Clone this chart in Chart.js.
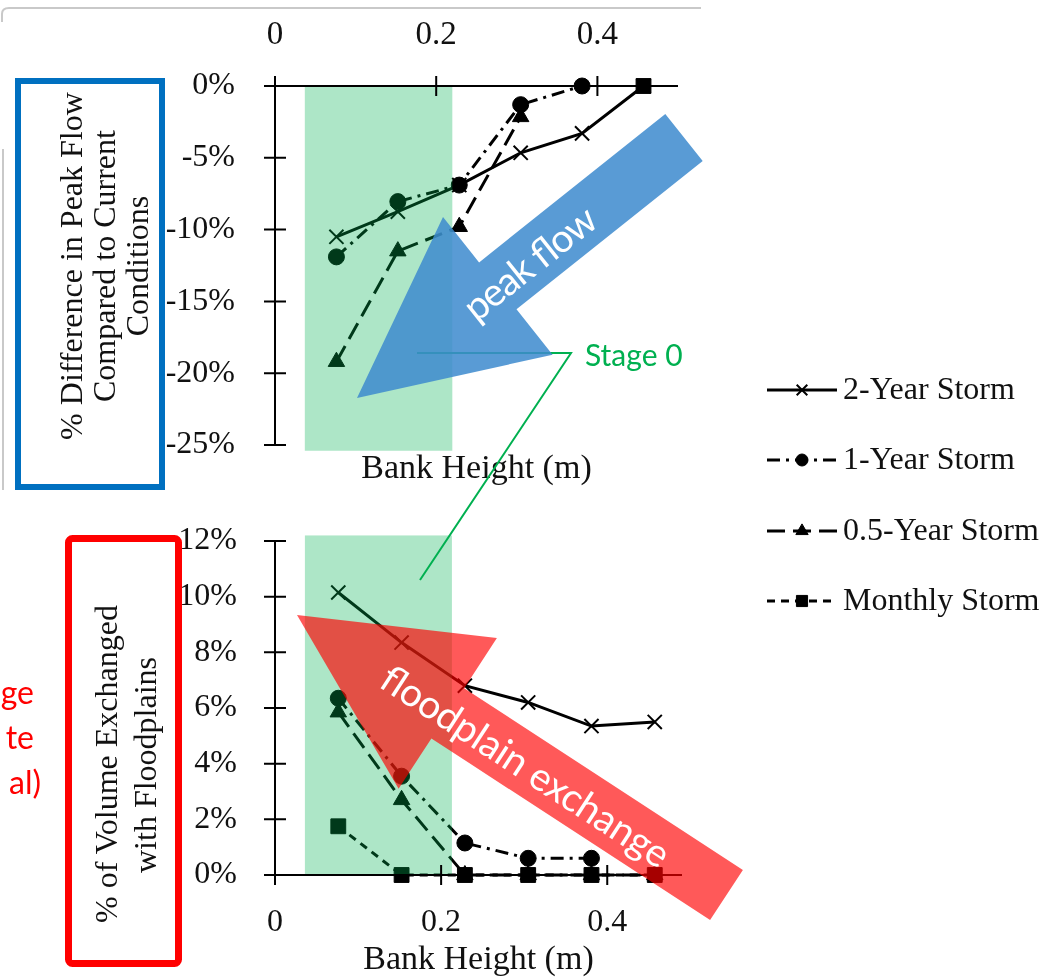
<!DOCTYPE html>
<html>
<head>
<meta charset="utf-8">
<script src="https://cdn.jsdelivr.net/npm/chart.js@4.4.1/dist/chart.umd.min.js"></script>
<style>
body { margin: 0; background: #fff; }
#wrap { position: relative; width: 1053px; height: 977px; overflow: hidden; background: #fff; }
.cv { position: absolute; left: 0; top: 0; width: 1053px; height: 977px; }
#ov { position: absolute; left: 0; top: 0; }
.serif { font-family: "Liberation Serif", "Times New Roman", serif; font-size: 32px; fill: #111; }
.sans { font-family: Lato, "Open Sans", sans-serif; }
</style>
</head>
<body>
<div id="wrap">
  <div class="cv"><canvas id="peak"></canvas></div>
  <div class="cv"><canvas id="vol"></canvas></div>
  <svg id="ov" width="1053" height="977">
    <!-- bits of the slide frame -->
    <path d="M2,22 L2,14 Q2,8 9,8 L701,8" stroke="#c9c9c9" stroke-width="2" fill="none"/>
    <line x1="3" y1="149" x2="3" y2="490" stroke="#c9c9c9" stroke-width="2"/>

    <!-- boxed y titles -->
    <rect x="18" y="81" width="144" height="406" fill="none" stroke="#0070C0" stroke-width="6"/>
    <text class="serif" text-anchor="middle" dominant-baseline="central" transform="translate(71,266) rotate(-90)">% Difference in Peak Flow</text>
    <text class="serif" text-anchor="middle" dominant-baseline="central" transform="translate(104,266) rotate(-90)">Compared to Current</text>
    <text class="serif" text-anchor="middle" dominant-baseline="central" transform="translate(137,266) rotate(-90)">Conditions</text>

    <rect x="68.5" y="538.5" width="110" height="425" rx="4" fill="none" stroke="#FF0000" stroke-width="7"/>
    <text class="serif" text-anchor="middle" dominant-baseline="central" transform="translate(106,764) rotate(-90)">% of Volume Exchanged</text>
    <text class="serif" text-anchor="middle" dominant-baseline="central" transform="translate(145,765) rotate(-90)">with Floodplains</text>

    <!-- cut-off red label at the left edge -->
    <text class="sans" x="34" y="704" text-anchor="end" font-size="32" fill="#FF0000">ge</text>
    <text class="sans" x="34" y="749" text-anchor="end" font-size="32" fill="#FF0000">te</text>
    <text class="sans" x="41" y="794" text-anchor="end" font-size="32" fill="#FF0000">al)</text>

    <!-- Stage 0 callout -->
    <polyline points="417,353 571,353 420,580" fill="none" stroke="#00B050" stroke-width="2"/>
    <text class="sans" x="585" y="366" font-size="30" fill="#00B050">Stage 0</text>

    <!-- arrows -->
    <polygon id="blueArrow" fill="rgba(62,138,206,0.86)"/>
    <text class="sans" font-size="39" fill="#fff" text-anchor="middle" dominant-baseline="central"
          textLength="158" transform="translate(529,262) rotate(-38.5)">peak flow</text>
    <polygon id="redArrow" fill="rgba(255,0,0,0.65)"/>
    <text class="sans" font-size="39" fill="#fff" text-anchor="middle" dominant-baseline="central"
          textLength="336" transform="translate(526,765) rotate(33.1)">floodplain exchange</text>
  </svg>
</div>
<script>
// bank heights tested (m)
var bankHeight = [0.0762, 0.1524, 0.2286, 0.3048, 0.3810, 0.4572];
var stormNames = ['2-Year Storm', '1-Year Storm', '0.5-Year Storm', 'Monthly Storm'];

// % difference in peak flow compared to current conditions
var peak2Year    = [-10.5, -8.75, -6.9, -4.65, -3.3, 0];
var peak1Year    = [-11.9, -8.05, -6.9, -1.3, 0, null];
var peakHalfYear = [-19.2, -11.5, -9.8, -2.15, null, null];
var peakMonthly  = [null, null, null, null, null, 0];

// % of volume exchanged with floodplains
var vol2Year    = [10.15, 8.35, 6.8, 6.2, 5.35, 5.5];
var vol1Year    = [6.35, 3.55, 1.15, 0.6, 0.6, null];
var volHalfYear = [5.85, 2.7, 0, 0, 0, 0];
var volMonthly  = [1.75, 0, 0, 0, 0, 0];

// ticks
var xTicks = [0, 0.2, 0.4];
var peakTicks = [0, -5, -10, -15, -20, -25];
var volTicks = [0, 2, 4, 6, 8, 10, 12];

// shaded "Stage 0" range of bank heights
var stageBandPeak = [0.037, 0.22, -25.4, 0];
var stageBandVol = [0.036, 0.213, 0, 12.2];

Chart.defaults.font.family = '"Liberation Serif", "Times New Roman", serif';
Chart.defaults.color = '#111';

var markStyle = ['crossRot', 'circle', 'triangle', 'rect'];
var markSize = [10, 8, 9.5, 10.5];
var dashStyle = [[], [13, 6, 3, 6], [18, 8], [8, 6]];

function makeSets(series) {
  return series.map(function (vals, i) {
    return {
      label: stormNames[i],
      data: bankHeight.map(function (x, j) { return {x: x, y: vals[j]}; }),
      borderColor: '#000',
      backgroundColor: '#000',
      borderWidth: 3,
      borderDash: dashStyle[i],
      pointStyle: markStyle[i],
      pointRadius: markSize[i],
      pointBorderWidth: i === 0 ? 2 : 1,
      pointBorderColor: '#000',
      pointBackgroundColor: '#000',
      tension: 0,
      clip: false
    };
  });
}

function setTicks(list) {
  return function (s) { s.ticks = list.map(function (v) { return {value: v}; }); };
}

// green band over the lines + axes with ticks crossing the lines
function framePlugin(band) {
  return {
    id: 'frame',
    afterDatasetsDraw: function (chart) {
      var c = chart.ctx, xs = chart.scales.x, ys = chart.scales.y;
      c.save();
      var x0 = xs.getPixelForValue(band[0]), x1 = xs.getPixelForValue(band[1]);
      var y0 = ys.getPixelForValue(band[2]), y1 = ys.getPixelForValue(band[3]);
      c.fillStyle = 'rgba(0,176,80,0.32)';
      c.fillRect(x0, Math.min(y0, y1), x1 - x0, Math.abs(y1 - y0));

      var ox = xs.getPixelForValue(0), oy = ys.getPixelForValue(0);
      c.strokeStyle = '#000';
      c.lineWidth = 2;
      c.beginPath();
      c.moveTo(ox, ys.top); c.lineTo(ox, ys.bottom);
      c.moveTo(xs.left, oy); c.lineTo(xs.right, oy);
      ys.ticks.forEach(function (t) {
        var p = ys.getPixelForValue(t.value);
        c.moveTo(ox - 11, p); c.lineTo(ox + 11, p);
      });
      xs.ticks.forEach(function (t) {
        var p = xs.getPixelForValue(t.value);
        c.moveTo(p, oy - 10); c.lineTo(p, oy + 10);
      });
      c.stroke();
      c.restore();
    }
  };
}

var legendY = [390, 460, 531, 601];
var sideLegend = {
  id: 'sideLegend',
  afterDraw: function (chart) {
    var c = chart.ctx;
    chart.data.datasets.forEach(function (ds, i) {
      var y = legendY[i];
      c.save();
      c.strokeStyle = '#000';
      c.fillStyle = '#000';
      c.lineWidth = 3;
      c.setLineDash(ds.borderDash);
      c.beginPath(); c.moveTo(767, y); c.lineTo(837, y); c.stroke();
      c.setLineDash([]);
      c.lineWidth = ds.pointBorderWidth;
      Chart.helpers.drawPoint(c, {
        pointStyle: ds.pointStyle, rotation: 0,
        radius: ds.pointRadius * 0.75, borderWidth: ds.pointBorderWidth
      }, 802, y);
      c.font = '32px "Liberation Serif"';
      c.textBaseline = 'middle';
      c.fillStyle = '#111';
      c.fillText(ds.label, 843, y + 1);
      c.restore();
    });
  }
};

new Chart('peak', {
  type: 'line',
  data: { datasets: makeSets([peak2Year, peak1Year, peakHalfYear, peakMonthly]) },
  options: {
    responsive: true,
    maintainAspectRatio: false,
    animation: false,
    layout: { padding: { left: 0, top: 0, right: 375, bottom: 977 - 445 - 50 } },
    plugins: { legend: { display: false }, tooltip: { enabled: false } },
    scales: {
      x: {
        type: 'linear', position: 'top', min: 0, max: 0.5,
        grid: { display: false }, border: { display: false },
        afterBuildTicks: setTicks(xTicks),
        ticks: { padding: 23, font: { size: 33 }, maxRotation: 0,
          callback: function (v) { return v === 0 ? '0' : v.toFixed(1); } },
        afterFit: function (s) { s.height = 86; }
      },
      x2: {
        type: 'linear', position: 'bottom', min: 0, max: 1,
        grid: { display: false }, border: { display: false },
        ticks: { display: false },
        title: { display: true, text: 'Bank Height (m)', font: { size: 34, lineHeight: 1 },
          padding: { top: 0, bottom: 9 } },
        afterFit: function (s) { s.height = 50; }
      },
      y: {
        type: 'linear', position: 'left', min: -25, max: 0,
        grid: { display: false }, border: { display: false },
        afterBuildTicks: setTicks(peakTicks),
        ticks: { padding: 32, font: { size: 32 }, callback: function (v) { return v + '%'; } },
        afterFit: function (s) { s.width = 275; }
      }
    }
  },
  plugins: [framePlugin(stageBandPeak), sideLegend]
});

new Chart('vol', {
  type: 'line',
  data: { datasets: makeSets([vol2Year, vol1Year, volHalfYear, volMonthly]) },
  options: {
    responsive: true,
    maintainAspectRatio: false,
    animation: false,
    layout: { padding: { left: 0, top: 541, right: 371, bottom: 0 } },
    plugins: { legend: { display: false }, tooltip: { enabled: false } },
    scales: {
      x: {
        type: 'linear', position: 'bottom', min: 0, max: 0.49,
        grid: { display: false }, border: { display: false },
        afterBuildTicks: setTicks(xTicks),
        ticks: { padding: 20, font: { size: 32 }, maxRotation: 0,
          callback: function (v) { return v === 0 ? '0' : v.toFixed(1); } },
        title: { display: true, text: 'Bank Height (m)', font: { size: 34, lineHeight: 1 },
          padding: { top: 0, bottom: 0 } },
        afterFit: function (s) { s.height = 977 - 875; }
      },
      y: {
        type: 'linear', position: 'left', min: 0, max: 12,
        grid: { display: false }, border: { display: false },
        afterBuildTicks: setTicks(volTicks),
        ticks: { padding: 30, font: { size: 32 }, callback: function (v) { return v + '%'; } },
        afterFit: function (s) { s.width = 275; }
      }
    }
  },
  plugins: [framePlugin(stageBandVol)]
});

// block arrows: tip, tail centre, shaft half width, head length, head half width
function arrowPoints(tip, tail, sw, hl, hw) {
  var dx = tail[0] - tip[0], dy = tail[1] - tip[1];
  var len = Math.sqrt(dx * dx + dy * dy);
  var ux = dx / len, uy = dy / len, nx = -uy, ny = ux;
  function p(t, s) { return (tip[0] + ux * t + nx * s).toFixed(1) + ',' + (tip[1] + uy * t + ny * s).toFixed(1); }
  return [p(0, 0), p(hl, hw), p(hl, sw), p(len, sw), p(len, -sw), p(hl, -sw), p(hl, -hw)].join(' ');
}
document.getElementById('blueArrow').setAttribute('points', arrowPoints([357, 398], [684, 137.5], 30, 180, 88));
document.getElementById('redArrow').setAttribute('points', arrowPoints([297, 615], [726.5, 895], 30, 180, 90));
</script>
</body>
</html>
